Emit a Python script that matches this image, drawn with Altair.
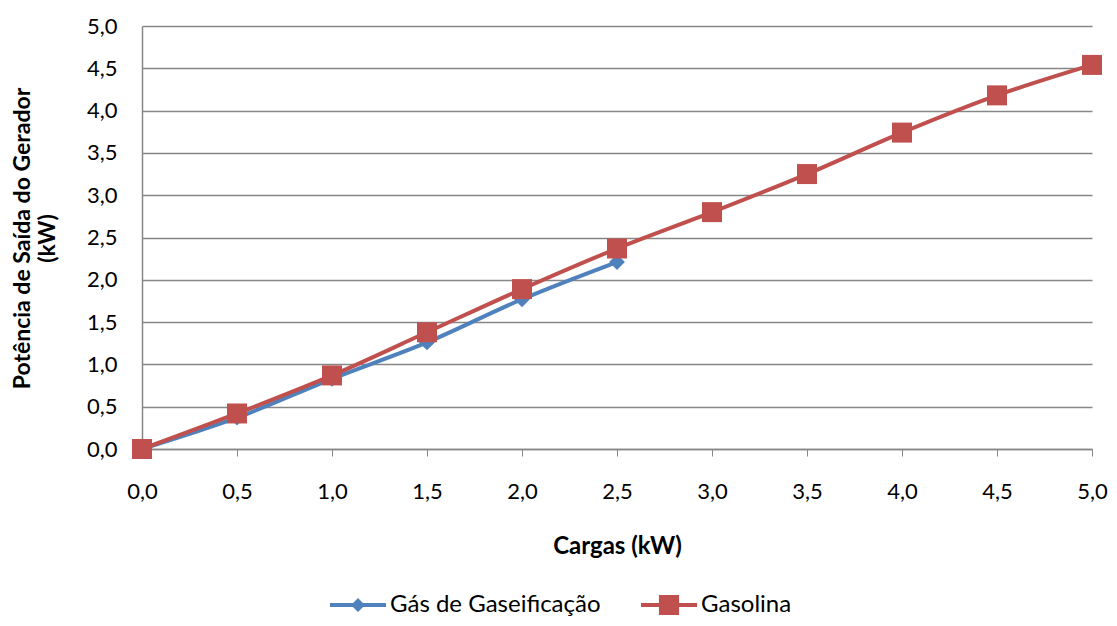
import altair as alt
import pandas as pd

cargas = [0.0, 0.5, 1.0, 1.5, 2.0, 2.5, 3.0, 3.5, 4.0, 4.5, 5.0]
gas_gaseificacao = [0.0, 0.37, 0.83, 1.26, 1.77, 2.21]
gasolina = [0.0, 0.42, 0.87, 1.38, 1.89, 2.37, 2.80, 3.25, 3.74, 4.18, 4.54]
series_names = ["Gás de Gaseificação", "Gasolina"]
colors = ["#4F81BD", "#C0504D"]
ticks = [0.0, 0.5, 1.0, 1.5, 2.0, 2.5, 3.0, 3.5, 4.0, 4.5, 5.0]

rows = []
for x, v in zip(cargas, gas_gaseificacao):
    rows.append({"carga": x, "pot": v, "serie": series_names[0]})
for x, v in zip(cargas, gasolina):
    rows.append({"carga": x, "pot": v, "serie": series_names[1]})
df = pd.DataFrame(rows)

FONT = "Lato"
GRID = "#868686"
label_expr = "replace(format(datum.value, '.1f'), '.', ',')"

x_enc = alt.X(
    "carga:Q",
    scale=alt.Scale(domain=[0, 5], nice=False),
    axis=alt.Axis(
        values=ticks, labelExpr=label_expr, grid=False, labelFlush=False,
        domainColor=GRID, tickColor=GRID, tickSize=7, domainWidth=1.5,
        labelFont=FONT, labelFontSize=22, labelColor="black",
        labelPadding=35, labelBaseline="middle",
        title="Cargas (kW)", titleFont=FONT, titleFontSize=24,
        titleFontWeight="bold", titleColor="black",
        titleY=97, titleBaseline="middle",
    ),
)
y_enc = alt.Y(
    "pot:Q",
    scale=alt.Scale(domain=[0, 5], nice=False),
    axis=alt.Axis(
        values=ticks, labelExpr=label_expr, grid=True, gridColor=GRID,
        gridWidth=1.5, ticks=False, domainColor=GRID, domainWidth=1.5,
        labelFont=FONT, labelFontSize=22, labelColor="black", labelPadding=25,
        title=["Potência de Saída do Gerador", "(kW)"], titleFont=FONT,
        titleFontSize=23, titleFontWeight="bold", titleColor="black",
        titleLineHeight=25, titleX=-120, titleY=212, titleBaseline="middle",
        titleAlign="center",
    ),
)
color_nolegend = alt.Color("serie:N", scale=alt.Scale(domain=series_names, range=colors), legend=None)

base = alt.Chart(df)

def layer_for(name, shape, size):
    sub = base.transform_filter(alt.datum.serie == name)
    line = sub.mark_line(strokeWidth=4, interpolate="monotone").encode(x=x_enc, y=y_enc, color=color_nolegend)
    pts = sub.mark_point(filled=True, shape=shape, size=size, opacity=1).encode(x=x_enc, y=y_enc, color=color_nolegend)
    return [line, pts]

gas_path = "M-1,-0.07L1,-0.07L1,0.07L-1,0.07Z M0,-0.25L0.25,0L0,0.25L-0.25,0Z"
gasol_path = "M-1,-0.07L1,-0.07L1,0.07L-1,0.07Z M-0.36,-0.36L0.36,-0.36L0.36,0.36L-0.36,0.36Z"

legend_layer = base.transform_filter("false").mark_point(filled=True, opacity=1).encode(
    x=x_enc, y=y_enc,
    color=alt.Color(
        "serie:N", scale=alt.Scale(domain=series_names, range=colors),
        legend=alt.Legend(
            title=None, orient="none", legendX=188, legendY=551,
            direction="horizontal", symbolSize=3136, symbolOpacity=1,
            symbolStrokeWidth=0, labelFont=FONT, labelFontSize=24,
            labelColor="black", labelOffset=4, columnPadding=40,
            labelLimit=400,
        ),
    ),
    shape=alt.Shape("serie:N", scale=alt.Scale(domain=series_names, range=[gas_path, gasol_path])),
)

layers = [legend_layer] + layer_for(series_names[0], "diamond", 250) + layer_for(series_names[1], "square", 400)

chart = alt.layer(*layers).properties(
    width=950, height=423,
    autosize=alt.AutoSizeParams(type="none"),
    padding={"left": 134, "top": 18, "right": 17, "bottom": 169},
    background="white",
).configure_view(stroke=None)

chart.save("out.html", embed_options={"renderer": "svg", "actions": False})
